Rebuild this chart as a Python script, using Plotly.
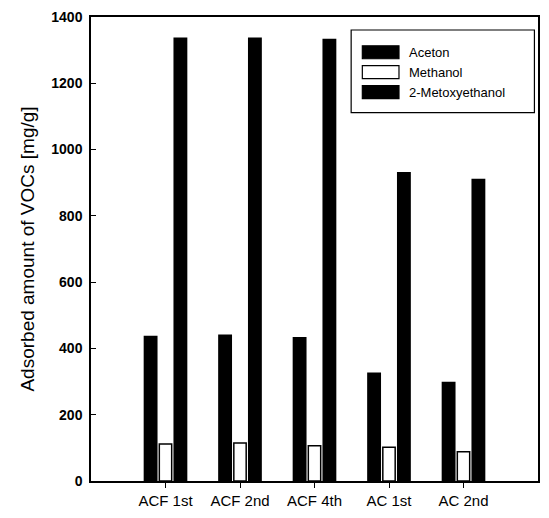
import plotly.graph_objects as go

# Adsorbed amount of three VOCs on activated carbon fibre (ACF) and activated carbon (AC)
samples = ["ACF 1st", "ACF 2nd", "ACF 4th", "AC 1st", "AC 2nd"]
aceton = [436, 440, 432, 325, 297]
methanol = [112, 115, 106, 102, 88]
metoxyethanol = [1336, 1336, 1332, 930, 910]

series_names = ["Aceton", "Methanol", "2-Metoxyethanol"]
series_values = [aceton, methanol, metoxyethanol]
fill_colors = ["black", "white", "black"]

y_ticks = [0, 200, 400, 600, 800, 1000, 1200, 1400]

FONT = "Liberation Sans, Arial, sans-serif"

fig = go.Figure()
for name, vals, col in zip(series_names, series_values, fill_colors):
    fig.add_trace(go.Bar(
        x=samples, y=vals, name=name,
        marker=dict(color=col, line=dict(color="black", width=1.5)),
        showlegend=False,
    ))

# Boxed legend with wide swatches
lx0, ly0 = 0.582, 0.972   # legend box top-left, paper coords
box_w, box_h = 0.41, 0.178
fig.add_shape(type="rect", xref="paper", yref="paper",
              x0=lx0, x1=lx0 + box_w, y0=ly0 - box_h, y1=ly0,
              line=dict(color="black", width=1.2), fillcolor="white")
row_step = 0.043
for i, (name, col) in enumerate(zip(series_names, fill_colors)):
    yc = ly0 - 0.048 - i * row_step
    fig.add_shape(type="rect", xref="paper", yref="paper",
                  x0=lx0 + 0.025, x1=lx0 + 0.107,
                  y0=yc - 0.014, y1=yc + 0.014,
                  line=dict(color="black", width=1.2), fillcolor=col)
    fig.add_annotation(xref="paper", yref="paper", x=lx0 + 0.124, y=yc,
                       text=name, showarrow=False, xanchor="left", yanchor="middle",
                       font=dict(family=FONT, size=13, color="black"))

fig.update_layout(
    width=549, height=518,
    margin=dict(l=91, r=9, t=15, b=35),
    paper_bgcolor="white", plot_bgcolor="white",
    barmode="group", bargap=0.4, bargroupgap=0.17,
    font=dict(family=FONT, color="black"),
    showlegend=False,
)
fig.update_xaxes(
    range=[-1, 5], showgrid=False, zeroline=False,
    showline=True, linecolor="black", linewidth=1.5, mirror=True,
    ticks="outside", ticklen=5, tickcolor="black",
    tickfont=dict(family=FONT, size=15, color="black"),
)
fig.update_yaxes(
    range=[0, 1400], tickvals=y_ticks, showgrid=False, zeroline=False,
    showline=True, linecolor="black", linewidth=1.5, mirror=True,
    ticks="inside", ticklen=5, tickcolor="black", ticklabelstandoff=4,
    tickfont=dict(family=FONT, size=14, color="black", weight="bold"),
    title=dict(text="Adsorbed amount of VOCs [mg/g]", standoff=12,
               font=dict(family=FONT, size=19, color="black")),
)

fig.write_html("out.html")
